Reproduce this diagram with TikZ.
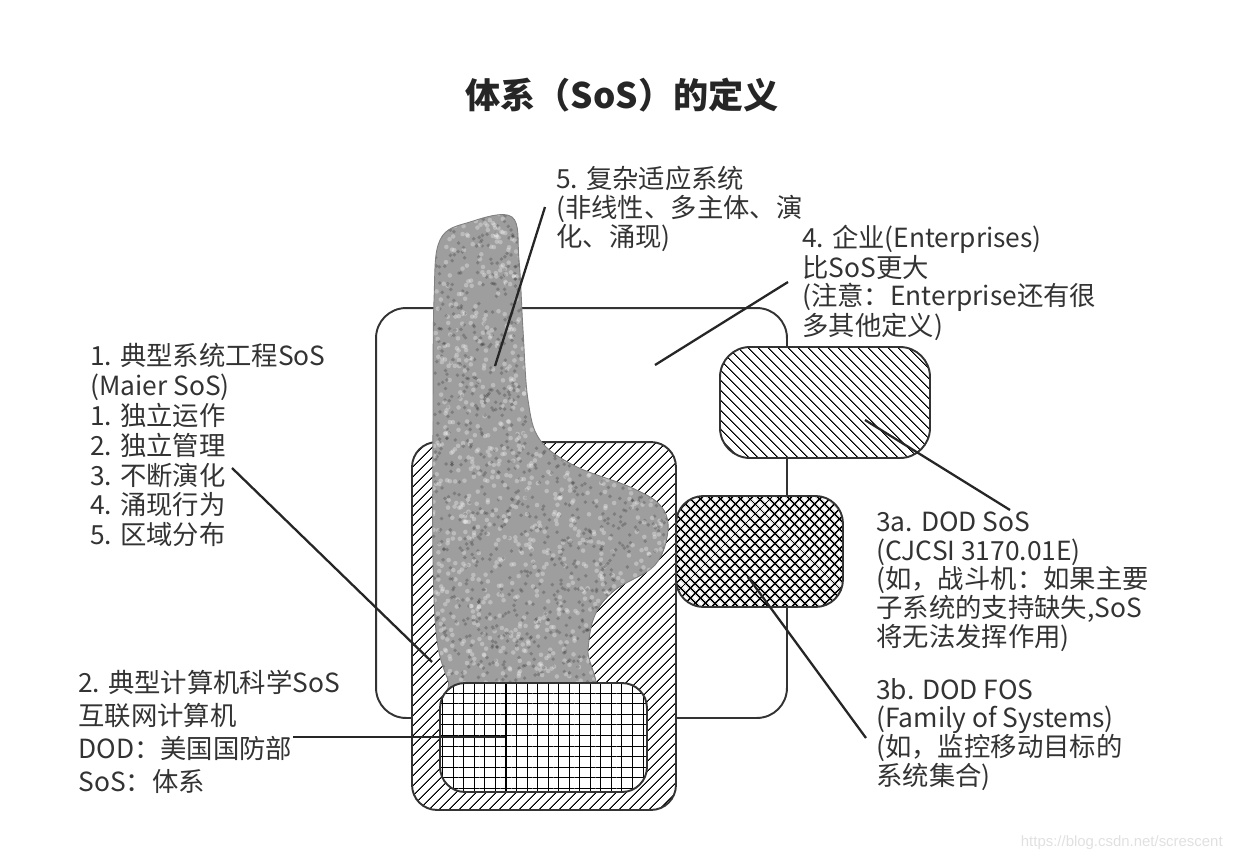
\documentclass[tikz,border=0pt]{standalone}
\usepackage{fontspec}
\setmainfont{Noto Sans CJK SC}
\newfontfamily\wmfont{Liberation Sans}
\usetikzlibrary{positioning,patterns.meta}

\newcommand{\blobpath}{plot [smooth cycle, tension=0.6] coordinates {
    (440,240) (470,222) (512,217) (519,260) (523,330) (528,400) (540,440)
    (575,466) (630,487) (660,505) (668,530) (655,565) (615,590) (595,615)
    (588,650) (587,700) (460,700) (448,680) (437,640) (433,560) (433,420) (434,300)}}

\tikzset{
  label/.style={anchor=north west, inner sep=0pt, align=left, text=black!80},
  box/.style={draw=black!80, line width=1.1pt, inner sep=0pt, outer sep=0pt},
  leader/.style={draw=black!85, line width=1.3pt}
}

\begin{document}
\begin{tikzpicture}[x=0.02cm, y=-0.02cm]
    \useasboundingbox (0,0) rectangle (1234,862);

    % shapes
    \node (ent) [box, fill=white, rounded corners=0.6cm, minimum width=8.22cm, minimum height=8.2cm] at (581.5,513) {};
    \node (sos) [box, rounded corners=0.6cm, minimum width=4.2cm, minimum height=2.22cm, preaction={fill=white}, pattern={Lines[angle=-45,distance=4pt,line width=0.6pt]}] at (825,402.5) {};
    \node (fos) [box, rounded corners=0.55cm, minimum width=3.34cm, minimum height=2.22cm, preaction={fill=white}, pattern={Hatch[angle=45,distance=4pt,line width=0.85pt]}] at (759.5,551.5) {};
    \node (maier) [box, rounded corners=0.5cm, minimum width=5.28cm, minimum height=7.36cm, preaction={fill=white}, pattern={Lines[angle=45,distance=4pt,line width=0.6pt]}] at (544,626) {};

    % grainy blob
    \begin{scope}
        \clip \blobpath;
        \fill [black!38] (430,210) rectangle (672,705);
        \pgfmathsetseed{7}
        \foreach \i in {1,...,1400} {
            \fill [white, opacity=0.3] ({433+237*rnd},{212+492*rnd}) circle (1.3pt);
            \fill [black, opacity=0.2] ({433+237*rnd},{212+492*rnd}) circle (1.1pt);
        }
    \end{scope}
    \draw [black!50, line width=0.5pt] \blobpath;

    \node (inet) [box, rounded corners=0.5cm, minimum width=4.14cm, minimum height=2.18cm, preaction={fill=white}, pattern={Hatch[angle=0,distance=6pt,line width=0.6pt]}] at (543.5,737.5) {};

    % title
    \node (title) [anchor=base, inner sep=0pt, text=black!85, font=\fontsize{20}{24}\selectfont\bfseries] at (622,108) {体系（SoS）的定义};

    % labels
    \node (cas) [label, font=\fontsize{15}{16.5}\selectfont] at (556,166)
        {5. 复杂适应系统\\(非线性、多主体、演\\化、涌现)};
    \node (entl) [label, font=\fontsize{15}{16}\selectfont] at (802,225)
        {4. 企业(Enterprises)\\比SoS更大\\(注意：Enterprise还有很\\多其他定义)};
    \node (maierl) [label, font=\fontsize{15}{17}\selectfont] at (90,343)
        {1. 典型系统工程SoS\\(Maier SoS)\\1. 独立运作\\2. 独立管理\\3. 不断演化\\4. 涌现行为\\5. 区域分布};
    \node (csl) [label, font=\fontsize{15}{18.7}\selectfont] at (78,670)
        {2. 典型计算机科学SoS\\互联网计算机\\DOD：美国国防部\\SoS：体系};
    \node (sosl) [label, font=\fontsize{15}{16.5}\selectfont] at (876,511)
        {3a. DOD SoS\\(CJCSI 3170.01E)\\(如，战斗机：如果主要\\子系统的支持缺失,SoS\\将无法发挥作用)};
    \node (fosl) [label, font=\fontsize{15}{16.3}\selectfont] at (876,678)
        {3b. DOD FOS\\(Family of Systems)\\(如，监控移动目标的\\系统集合)};
    \node (mark) [anchor=east, inner sep=0pt, text=black!12, font=\wmfont\fontsize{8.5}{10}\selectfont] at (1223,843)
        {https://blog.csdn.net/screscent};

    % leader ends
    \coordinate (castop) at (545,207);
    \coordinate (casin) at (495,366);
    \coordinate (enttop) at (788,282);
    \coordinate (entin) at (655,365);
    \coordinate (maiertop) at (232,468);
    \coordinate (maierin) at (432,662);
    \coordinate (cstop) at (293,737);
    \coordinate (csin) at (505,737);
    \coordinate (sosin) at (865,420);
    \coordinate (sostop) at (1010,510);
    \coordinate (fosin) at (748,577);
    \coordinate (fostop) at (866,738);

    \draw [leader] (castop) -- (casin);
    \draw [leader] (enttop) -- (entin);
    \draw [leader] (maiertop) -- (maierin);
    \draw [leader] (cstop) -- (csin);
    \draw [leader] (sosin) -- (sostop);
    \draw [leader] (fosin) -- (fostop);
\end{tikzpicture}
\end{document}
